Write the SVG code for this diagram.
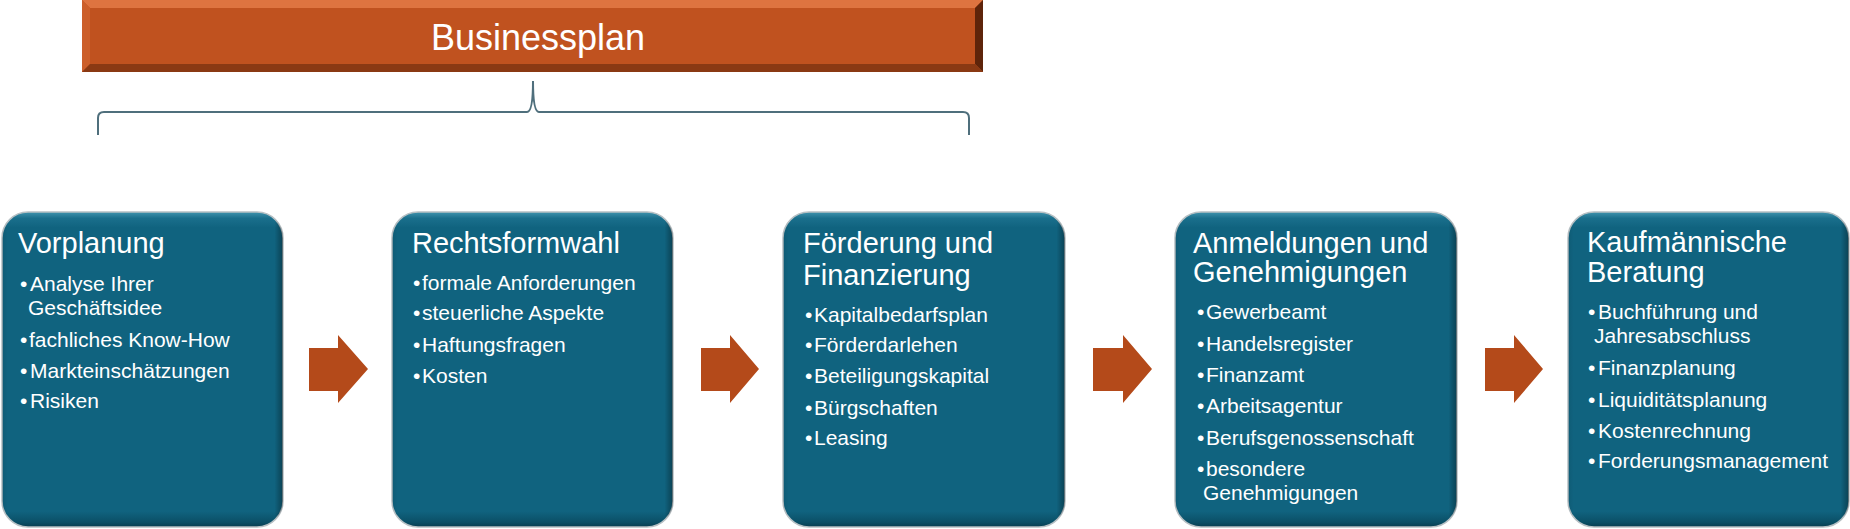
<svg xmlns="http://www.w3.org/2000/svg" width="1850" height="529" viewBox="0 0 1850 529">
<style>
.box{fill:url(#boxV);stroke:#b7c0c4;stroke-width:1.5}
.edge{fill:url(#boxH)}
.title{font-family:"Liberation Sans",Arial,sans-serif;font-size:29px;fill:#ffffff}
.item{font-family:"Liberation Sans",Arial,sans-serif;font-size:21px;fill:#ffffff}
.arrow{fill:#b44a1a}
.brace{fill:none;stroke:#4f6f7c;stroke-width:2}
.bp{font-family:"Liberation Sans",Arial,sans-serif;font-size:36px;fill:#ffffff;text-anchor:middle}
</style>
<defs>
<linearGradient id="boxV" x1="0" y1="0" x2="0" y2="1">
<stop offset="0" stop-color="#3f93ad"/>
<stop offset="0.02" stop-color="#1a6f8c"/>
<stop offset="0.05" stop-color="#10637f"/>
<stop offset="0.95" stop-color="#10637f"/>
<stop offset="0.985" stop-color="#0b4f66"/>
<stop offset="1" stop-color="#083d50"/>
</linearGradient>
<linearGradient id="boxH" x1="0" y1="0" x2="1" y2="0">
<stop offset="0" stop-color="#000" stop-opacity="0.08"/>
<stop offset="0.02" stop-color="#000" stop-opacity="0"/>
<stop offset="0.97" stop-color="#000" stop-opacity="0"/>
<stop offset="1" stop-color="#000" stop-opacity="0.35"/>
</linearGradient>
</defs>

<g id="businessplan">
<rect x="82" y="0" width="901" height="72" fill="#c0521f"/>
<polygon points="82,0 983,0 975,8 90,8" fill="#de7440"/>
<polygon points="82,0 90,8 90,64 82,72" fill="#cc5f2a"/>
<polygon points="983,0 983,72 975,64 975,8" fill="#5e240a"/>
<polygon points="82,72 983,72 975,64 90,64" fill="#8a3913"/>
<text class="bp" x="538" y="50">Businessplan</text>
</g>

<g id="brace">
<path class="brace" d="M98,135 L98,118 Q98,112 104,112 L527,112 Q533,112 533,81 Q533,112 539,112 L963,112 Q969,112 969,118 L969,135"/>
</g>

<g id="vorplanung">
<rect class="box" x="2" y="212" width="281" height="315" rx="26"/>
<rect class="edge" x="2" y="212" width="281" height="315" rx="26"/>
<text class="title" x="18" y="253">Vorplanung</text>
<text class="item" x="20" y="291">•<tspan x="30">Analyse Ihrer</tspan></text>
<text class="item" x="28" y="315">Geschäftsidee</text>
<text class="item" x="20" y="347">•<tspan x="29">fachliches Know-How</tspan></text>
<text class="item" x="20" y="378">•<tspan x="30">Markteinschätzungen</tspan></text>
<text class="item" x="20" y="408">•<tspan x="30">Risiken</tspan></text>
</g>

<g id="rechtsformwahl">
<rect class="box" x="392" y="212" width="281" height="315" rx="26"/>
<rect class="edge" x="392" y="212" width="281" height="315" rx="26"/>
<text class="title" x="412" y="253">Rechtsformwahl</text>
<text class="item" x="413" y="290">•<tspan x="422">formale Anforderungen</tspan></text>
<text class="item" x="413" y="320">•<tspan x="422">steuerliche Aspekte</tspan></text>
<text class="item" x="413" y="352">•<tspan x="422">Haftungsfragen</tspan></text>
<text class="item" x="413" y="383">•<tspan x="422">Kosten</tspan></text>
</g>

<g id="foerderung">
<rect class="box" x="783" y="212" width="282" height="315" rx="26"/>
<rect class="edge" x="783" y="212" width="282" height="315" rx="26"/>
<text class="title" x="803" y="253">Förderung und</text>
<text class="title" x="803" y="285">Finanzierung</text>
<text class="item" x="805" y="322">•<tspan x="814">Kapitalbedarfsplan</tspan></text>
<text class="item" x="805" y="352">•<tspan x="814">Förderdarlehen</tspan></text>
<text class="item" x="805" y="383">•<tspan x="814">Beteiligungskapital</tspan></text>
<text class="item" x="805" y="415">•<tspan x="814">Bürgschaften</tspan></text>
<text class="item" x="805" y="445">•<tspan x="814">Leasing</tspan></text>
</g>

<g id="anmeldungen">
<rect class="box" x="1175" y="212" width="282" height="315" rx="26"/>
<rect class="edge" x="1175" y="212" width="282" height="315" rx="26"/>
<text class="title" x="1193" y="253">Anmeldungen und</text>
<text class="title" x="1193" y="282">Genehmigungen</text>
<text class="item" x="1197" y="319">•<tspan x="1206">Gewerbeamt</tspan></text>
<text class="item" x="1197" y="351">•<tspan x="1206">Handelsregister</tspan></text>
<text class="item" x="1197" y="382">•<tspan x="1206">Finanzamt</tspan></text>
<text class="item" x="1197" y="413">•<tspan x="1206">Arbeitsagentur</tspan></text>
<text class="item" x="1197" y="445">•<tspan x="1206">Berufsgenossenschaft</tspan></text>
<text class="item" x="1197" y="476">•<tspan x="1206">besondere</tspan></text>
<text class="item" x="1203" y="500">Genehmigungen</text>
</g>

<g id="kaufmaennisch">
<rect class="box" x="1568" y="212" width="281" height="315" rx="26"/>
<rect class="edge" x="1568" y="212" width="281" height="315" rx="26"/>
<text class="title" x="1587" y="252">Kaufmännische</text>
<text class="title" x="1587" y="282">Beratung</text>
<text class="item" x="1588" y="319">•<tspan x="1598">Buchführung und</tspan></text>
<text class="item" x="1594" y="343">Jahresabschluss</text>
<text class="item" x="1588" y="375">•<tspan x="1598">Finanzplanung</tspan></text>
<text class="item" x="1588" y="407">•<tspan x="1598">Liquiditätsplanung</tspan></text>
<text class="item" x="1588" y="438">•<tspan x="1598">Kostenrechnung</tspan></text>
<text class="item" x="1588" y="468">•<tspan x="1598">Forderungsmanagement</tspan></text>
</g>

<g id="connectors">
<polygon class="arrow" points="309,348 338,348 338,335 368,369 338,403 338,391 309,391"/>
<polygon class="arrow" points="701,348 730,348 730,335 759,369 730,403 730,391 701,391"/>
<polygon class="arrow" points="1093,348 1123,348 1123,335 1152,369 1123,403 1123,391 1093,391"/>
<polygon class="arrow" points="1485,348 1514,348 1514,335 1543,369 1514,403 1514,391 1485,391"/>
</g>
</svg>
